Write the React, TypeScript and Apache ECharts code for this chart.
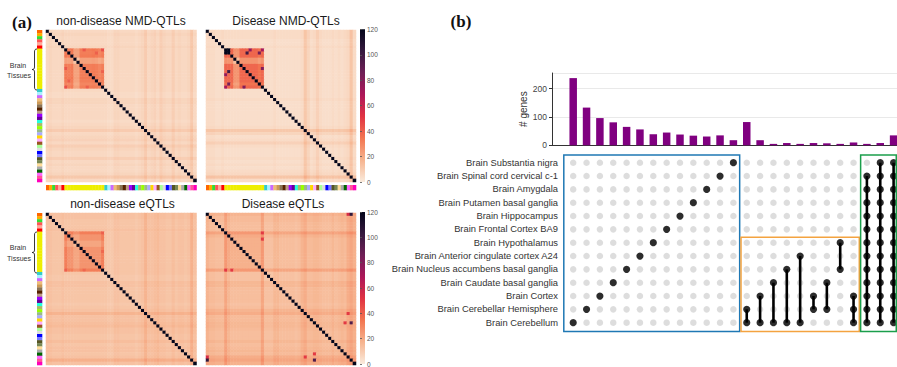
import React, { useEffect, useRef } from "react";
import * as echarts from "echarts";

// ---------------- Panel (a) data ----------------
const TISSUES = [
  "Adipose Subcutaneous", "Adipose Visceral", "Adrenal Gland", "Artery Aorta", "Artery Coronary", "Artery Tibial",
  "Brain Amygdala", "Brain Anterior cingulate", "Brain Caudate", "Brain Cerebellar Hemisphere", "Brain Cerebellum",
  "Brain Cortex", "Brain Frontal Cortex", "Brain Hippocampus", "Brain Hypothalamus", "Brain Nucleus accumbens",
  "Brain Putamen", "Brain Spinal cord", "Brain Substantia nigra",
  "Breast", "Fibroblasts", "EBV lymphocytes", "Colon Sigmoid", "Colon Transverse", "Esophagus GJ", "Esophagus Mucosa",
  "Esophagus Muscularis", "Heart Atrial", "Heart LV", "Kidney Cortex", "Liver", "Lung", "Minor Salivary Gland",
  "Muscle Skeletal", "Nerve Tibial", "Ovary", "Pancreas", "Pituitary", "Prostate", "Skin Not Sun", "Skin Sun",
  "Small Intestine", "Spleen", "Stomach", "Testis", "Thyroid", "Uterus", "Vagina", "Whole Blood",
];
const TISSUE_COLORS = [
  "#FF6600", "#FFAA00", "#33DD33", "#FF5555", "#FFAA99", "#FF0000",
  "#EEEE00", "#EEEE00", "#EEEE00", "#EEEE00", "#EEEE00", "#EEEE00", "#EEEE00", "#EEEE00", "#EEEE00", "#EEEE00",
  "#EEEE00", "#EEEE00", "#EEEE00",
  "#33CCCC", "#AAEEFF", "#CC66FF", "#EEBB77", "#CC9955", "#8B7355", "#552200", "#BB9988", "#9900FF", "#660099",
  "#22FFDD", "#AABB66", "#99FF00", "#99BB88", "#AAAAFF", "#FFD700", "#FFAAFF", "#995522", "#AAFF99", "#DDDDDD",
  "#0000FF", "#7777FF", "#555522", "#778855", "#FFDD99", "#AAAAAA", "#006600", "#FF66FF", "#FF5599", "#FF00BB",
];
const BRAIN_FIRST = 6;
const BRAIN_LAST = 18;

// per-tissue stripe strength (row/column signal)
const PROFILE_ND_NMD = [3, 4, 3, 3, 3, 4, 3, 3, 3, 3, 3, 3, 3, 3, 3, 3, 3, 3, 3, 3, 2, 2, 4, 4, 3, 3, 3, 3, 3, 2, 3, 4, 7, 3, 4, 5, 3, 6, 4, 3, 3, 6, 3, 4, 3, 3, 4, 8, 3];
const PROFILE_D_NMD = [3, 3, 3, 2, 2, 3, 2, 2, 2, 2, 2, 2, 2, 2, 2, 2, 2, 2, 2, 2, 2, 2, 3, 2, 2, 2, 2, 2, 2, 2, 2, 3, 9, 5, 2, 3, 6, 3, 2, 2, 2, 3, 2, 3, 2, 3, 4, 10, 3];
const PROFILE_ND_EQTL = [7, 7, 6, 6, 6, 7, 6, 6, 6, 6, 6, 6, 6, 6, 6, 6, 6, 6, 6, 6, 5, 5, 7, 7, 6, 6, 6, 6, 6, 5, 6, 7, 11, 7, 7, 8, 9, 7, 7, 6, 6, 8, 6, 7, 7, 6, 7, 12, 7];
const PROFILE_D_EQTL = [10, 8, 8, 7, 7, 7, 14, 9, 7, 7, 7, 7, 7, 7, 7, 7, 7, 7, 14, 6, 6, 6, 9, 9, 7, 7, 7, 7, 7, 6, 7, 10, 12, 8, 8, 9, 9, 8, 7, 7, 7, 9, 7, 8, 9, 8, 12, 14, 11];

// extra brain-brain sharing (13 brain tissues)
const BRAIN_ND_NMD = [14, 13, 14, 3, 3, 13, 13, 13, 13, 14, 13, 11, 13];
const BRAIN_D_NMD = [18, 17, 17, 5, 5, 17, 17, 17, 17, 17, 17, 14, 17];
const BRAIN_ND_EQTL = [13, 7, 7, 2, 2, 7, 7, 7, 7, 7, 7, 7, 13];
const BRAIN_D_EQTL = [2, 2, 2, 2, 2, 2, 2, 2, 2, 2, 2, 2, 2];

// individual strong cells [row, col, value]
const HOT_ND_NMD = [[6, 12, 42], [6, 18, 44], [18, 6, 44], [13, 18, 40], [7, 16, 40]];
const HOT_D_NMD = [[6, 7, 120], [7, 13, 100], [7, 17, 85], [6, 14, 75], [6, 18, 70], [12, 18, 80]];
const HOT_ND_EQTL = [[6, 18, 40], [18, 12, 38]];
const HOT_D_EQTL = [[0, 47, 105], [35, 47, 95], [32, 46, 50], [8, 18, 50], [6, 18, 50], [35, 45, 50], [0, 46, 55]];

const COLOR_TICKS_MAX = 120;
const ROCKET_R = ["#faebdd", "#f6b48f", "#f37651", "#e13342", "#ad1759", "#701f57", "#35193e", "#03051a"];

// ---------------- Panel (b) data ----------------
const ROW_NAMES = [
  "Brain Cerebellum", "Brain Cerebellar Hemisphere", "Brain Cortex", "Brain Caudate basal ganglia",
  "Brain Nucleus accumbens basal ganglia", "Brain Anterior cingulate cortex A24", "Brain Hypothalamus",
  "Brain Frontal Cortex BA9", "Brain Hippocampus", "Brain Putamen basal ganglia", "Brain Amygdala",
  "Brain Spinal cord cervical c-1", "Brain Substantia nigra",
];
const BAR_VALUES = [237, 133, 96, 81, 65, 56, 39, 45, 38, 34, 31, 35, 18, 82, 18, 5, 8, 5, 8, 7, 5, 10, 5, 8, 35];
const SET_MEMBERS = [
  [0], [1], [2], [3], [4], [5], [6], [7], [8], [9], [10], [11], [12],
  [0, 1], [0, 2], [0, 3], [0, 4], [0, 5], [1, 2], [1, 3], [4, 6], [0, 1, 2],
  [0, 1, 2, 3, 4, 5, 6, 7, 8, 9, 10, 11],
  [0, 1, 2, 3, 4, 5, 6, 7, 8, 9, 10, 11, 12],
  [0, 1, 2, 3, 4, 5, 6, 7, 8, 9, 10, 11, 12],
];
const BAR_TICKS = [0, 100, 200];

const W = 897;
const H = 367;
const SANS = "Liberation Sans, Arial, sans-serif";

echarts.graphic.registerShape(
  "brace",
  echarts.graphic.extendPath(
    "M5,0 C3,0 2.5,1 2.5,3 L2.5,18 C2.5,20 1.5,20.5 0,20.5 C1.5,20.5 2.5,21 2.5,23 L2.5,38 C2.5,40 3,41 5,41",
    {}
  )
);

function buildMatrix(profile: number[], brain: number[], hot: number[][]) {
  const n = profile.length;
  const m: number[][] = [];
  for (let i = 0; i < n; i++) {
    m.push([]);
    for (let j = 0; j < n; j++) {
      let v = profile[i] + profile[j];
      const bi = i >= BRAIN_FIRST && i <= BRAIN_LAST;
      const bj = j >= BRAIN_FIRST && j <= BRAIN_LAST;
      if (bi && bj) v += brain[i - BRAIN_FIRST] + brain[j - BRAIN_FIRST];
      m[i].push(v);
    }
  }
  hot.forEach(([r, c, v]) => {
    m[r][c] = v;
    m[c][r] = v;
  });
  const data: number[][] = [];
  for (let i = 0; i < n; i++) {
    for (let j = 0; j < n; j++) {
      const v = i === j ? COLOR_TICKS_MAX : Math.min(COLOR_TICKS_MAX, m[i][j]);
      data.push([j, i, v]);
    }
  }
  return data;
}

export default function App() {
  const ref = useRef<HTMLDivElement>(null);

  useEffect(() => {
    if (!ref.current) return;
    const chart = echarts.init(ref.current, null, { renderer: "svg", width: W, height: H });

    const heatGrids = [
      { left: 46, top: 30, width: 150.5, height: 152 },
      { left: 206, top: 30, width: 150, height: 152 },
      { left: 46, top: 213, width: 150.5, height: 152 },
      { left: 206, top: 213, width: 150, height: 152 },
    ];
    const COL0 = 573.2;
    const STEP = 13.35;
    const MAT_LEFT = 563;
    const BAR_LEFT = 552;

    const grids: any[] = [
      ...heatGrids,
      { left: 37, top: 30, width: 5, height: 152 }, // 4 left tissue bar (top)
      { left: 37, top: 213, width: 5, height: 152 }, // 5 left tissue bar (bottom)
      { left: 46, top: 185, width: 150.5, height: 5 }, // 6 bottom bar 1
      { left: 206, top: 185, width: 150, height: 5 }, // 7 bottom bar 2
      { left: 360, top: 29.3, width: 5, height: 152.7 }, // 8 colorbar 1
      { left: 360, top: 212, width: 5, height: 152 }, // 9 colorbar 2
      { left: BAR_LEFT, width: W - BAR_LEFT, top: 73, height: 72.3 }, // 10 bars
      { left: MAT_LEFT, width: W - MAT_LEFT, top: 156.05, height: 173.3 }, // 11 matrix
    ].map((g) => ({ ...g, containLabel: false, outerBoundsMode: "none" }));

    const hidCat = (grid: number, data: string[], inverse = false) => ({
      type: "category", gridIndex: grid, data, show: false, inverse, boundaryGap: true,
    });
    const xAxis: any[] = [
      hidCat(0, TISSUES), hidCat(1, TISSUES), hidCat(2, TISSUES), hidCat(3, TISSUES),
      hidCat(4, ["c"]), hidCat(5, ["c"]),
      hidCat(6, TISSUES), hidCat(7, TISSUES),
      { type: "value", gridIndex: 8, min: 0, max: 1, show: false },
      { type: "value", gridIndex: 9, min: 0, max: 1, show: false },
      {
        type: "value", gridIndex: 10, min: -(COL0 - BAR_LEFT) / STEP, max: (W - COL0) / STEP,
        axisLine: { show: true, onZero: false, lineStyle: { color: "#333", width: 1 } },
        axisTick: { show: false }, axisLabel: { show: false }, splitLine: { show: false },
      },
      { type: "value", gridIndex: 11, min: -(COL0 - MAT_LEFT) / STEP, max: (W - COL0) / STEP, show: false },
    ];
    const cbAxis = (grid: number) => ({
      type: "value", gridIndex: grid, min: 0, max: COLOR_TICKS_MAX, interval: 20, position: "right",
      axisLine: { show: false },
      axisTick: { show: true, length: 2, lineStyle: { color: "#555", width: 0.8 } },
      axisLabel: { fontSize: 6.5, color: "#555", margin: 2, fontFamily: SANS },
      splitLine: { show: false },
    });
    const yAxis: any[] = [
      hidCat(0, TISSUES, true), hidCat(1, TISSUES, true), hidCat(2, TISSUES, true), hidCat(3, TISSUES, true),
      hidCat(4, TISSUES, true), hidCat(5, TISSUES, true),
      hidCat(6, ["c"]), hidCat(7, ["c"]),
      cbAxis(8), cbAxis(9),
      {
        type: "value", gridIndex: 10, min: 0, max: 255, interval: 100, position: "left",
        axisLine: { show: true, onZero: false, lineStyle: { color: "#333", width: 1 } },
        axisTick: { show: true, length: 3, lineStyle: { color: "#333" } },
        axisLabel: {
          fontSize: 8.5, color: "#444", margin: 5, fontFamily: SANS, showMaxLabel: false,
          formatter: (v: number) => (BAR_TICKS.includes(v) ? String(v) : ""),
        },
        splitLine: { show: true, lineStyle: { color: "#e9e9e9", width: 1 } },
        name: "# genes", nameLocation: "middle", nameRotate: 90, nameGap: 23,
        nameTextStyle: { fontSize: 10, color: "#333", fontFamily: SANS },
      },
      { type: "value", gridIndex: 11, min: -0.5, max: 12.5, show: false, position: "left" },
      {
        type: "category", gridIndex: 11, data: ROW_NAMES, position: "left", offset: 0,
        axisLine: { show: false }, axisTick: { show: false },
        axisLabel: { fontSize: 9.35, color: "#333", margin: 5, fontFamily: SANS },
        splitLine: { show: false },
      },
    ];

    const heatData = [
      buildMatrix(PROFILE_ND_NMD, BRAIN_ND_NMD, HOT_ND_NMD),
      buildMatrix(PROFILE_D_NMD, BRAIN_D_NMD, HOT_D_NMD),
      buildMatrix(PROFILE_ND_EQTL, BRAIN_ND_EQTL, HOT_ND_EQTL),
      buildMatrix(PROFILE_D_EQTL, BRAIN_D_EQTL, HOT_D_EQTL),
    ];

    const tissueRect = (params: any, api: any) => {
      const p = api.coord([api.value(0), api.value(1)]);
      const s = api.size([1, 1]);
      return {
        type: "rect",
        shape: { x: p[0] - s[0] / 2, y: p[1] - s[1] / 2, width: s[0] + 0.3, height: s[1] + 0.3 },
        style: { fill: TISSUE_COLORS[api.value(2)] },
      };
    };

    const grayDots: number[][] = [];
    SET_MEMBERS.forEach((_, c) => ROW_NAMES.forEach((__, r) => grayDots.push([c, r])));
    const blackDots: number[][] = [];
    const segs: number[][] = [];
    SET_MEMBERS.forEach((rows, c) => {
      rows.forEach((r) => blackDots.push([c, r]));
      if (rows.length > 1) segs.push([c, Math.min(...rows), Math.max(...rows)]);
    });

    const series: any[] = [
      ...heatData.map((d, k) => ({
        type: "heatmap", xAxisIndex: k, yAxisIndex: k, data: d, progressive: 0,
        itemStyle: { borderWidth: 0 }, emphasis: { disabled: true },
      })),
      { type: "custom", xAxisIndex: 4, yAxisIndex: 4, data: TISSUES.map((_, i) => [0, i, i]), renderItem: tissueRect },
      { type: "custom", xAxisIndex: 5, yAxisIndex: 5, data: TISSUES.map((_, i) => [0, i, i]), renderItem: tissueRect },
      { type: "custom", xAxisIndex: 6, yAxisIndex: 6, data: TISSUES.map((_, i) => [i, 0, i]), renderItem: tissueRect },
      { type: "custom", xAxisIndex: 7, yAxisIndex: 7, data: TISSUES.map((_, i) => [i, 0, i]), renderItem: tissueRect },
      {
        type: "bar", xAxisIndex: 10, yAxisIndex: 10, data: BAR_VALUES.map((v, i) => [i, v]),
        barWidth: 7.5, itemStyle: { color: "#800080" },
      },
      {
        type: "scatter", xAxisIndex: 11, yAxisIndex: 11, data: grayDots, symbolSize: 6.5, z: 2,
        itemStyle: { color: "#d5d5d5" }, silent: true,
      },
      {
        type: "custom", xAxisIndex: 11, yAxisIndex: 11, data: segs, z: 5,
        renderItem: (params: any, api: any) => {
          const a = api.coord([api.value(0), api.value(1)]);
          const b = api.coord([api.value(0), api.value(2)]);
          return { type: "line", shape: { x1: a[0], y1: a[1], x2: b[0], y2: b[1] }, style: { stroke: "#000", lineWidth: 2.6 } };
        },
      },
      {
        type: "scatter", xAxisIndex: 11, yAxisIndex: 11, data: blackDots, symbolSize: 7.2, z: 6,
        itemStyle: { color: "#000" }, silent: true,
      },
    ];

    const gradient = () =>
      new echarts.graphic.LinearGradient(0, 0, 0, 1,
        ROCKET_R.slice().reverse().map((c, i) => ({ offset: i / (ROCKET_R.length - 1), color: c })));

    const text = (t: string, x: number, y: number, size: number, extra: any = {}) => ({
      type: "text", x, y,
      style: {
        text: t, fontSize: size, fontFamily: SANS, fill: "#1a1a1a",
        textAlign: "center", textVerticalAlign: "middle", ...extra,
      },
    });

    const graphic: any[] = [
      text("(a)", 22, 22, 17, { fontFamily: "Liberation Serif, Times New Roman, serif", fontWeight: "bold", fill: "#111" }),
      text("(b)", 461, 21, 17, { fontFamily: "Liberation Serif, Times New Roman, serif", fontWeight: "bold", fill: "#111" }),
      text("non-disease NMD-QTLs", 121, 20.5, 12),
      text("Disease NMD-QTLs", 286, 20.5, 12),
      text("non-disease eQTLs", 122.5, 204, 12),
      text("Disease eQTLs", 283, 204, 12),
      text("Brain", 18, 65, 7, { fill: "#333" }),
      text("Tissues", 19, 75, 7, { fill: "#333" }),
      text("Brain", 18, 247, 7, { fill: "#333" }),
      text("Tissues", 19, 258, 7, { fill: "#333" }),
      { type: "brace", x: 32, y: 49, style: { stroke: "#222", fill: "none", lineWidth: 0.9 } },
      { type: "brace", x: 32, y: 232, style: { stroke: "#222", fill: "none", lineWidth: 0.9 } },
      { type: "rect", shape: { x: 360, y: 29.3, width: 5, height: 152.7 }, style: { fill: gradient() } },
      { type: "rect", shape: { x: 360, y: 212, width: 5, height: 152 }, style: { fill: gradient() } },
    ];

    chart.setOption({
      animation: false,
      textStyle: { fontFamily: SANS },
      grid: grids,
      xAxis,
      yAxis,
      visualMap: {
        type: "continuous", min: 0, max: COLOR_TICKS_MAX, seriesIndex: [0, 1, 2, 3], show: false,
        inRange: { color: ROCKET_R },
      },
      series,
      graphic,
    });

    // selection boxes around set groups, placed through the matrix coordinate system
    const px = (x: number, y: number) => chart.convertToPixel({ seriesIndex: 9 }, [x, y]) as number[];
    const box = (x0: number, x1: number, y0: number, y1: number, color: string) => {
      const a = px(x0, y1);
      const b = px(x1, y0);
      return {
        type: "rect",
        shape: { x: a[0], y: a[1], width: b[0] - a[0], height: b[1] - a[1] },
        style: { fill: "none", stroke: color, lineWidth: 1.5 },
        z: 100,
      };
    };
    const xMin = -(COL0 - MAT_LEFT) / STEP + 0.06;
    chart.setOption({
      graphic: [
        ...graphic,
        box(xMin, 12.47, -0.66, 12.58, "#1f78b4"),
        box(12.57, 21.43, -0.66, 6.4, "#f4a340"),
        box(21.53, 24.2, -0.66, 12.58, "#1b9e4b"),
      ],
    });

    return () => chart.dispose();
  }, []);

  return <div ref={ref} style={{ position: "absolute", left: 0, top: 0, width: W, height: H, background: "#fff" }} />;
}
